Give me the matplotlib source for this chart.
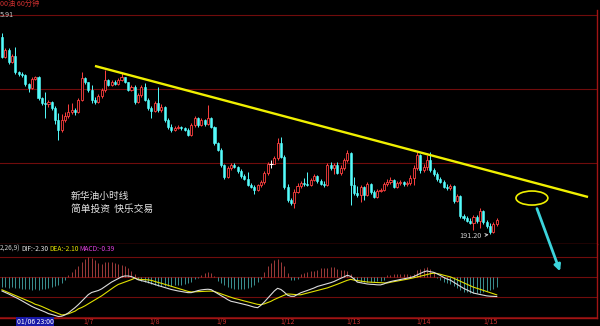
import matplotlib
matplotlib.use("Agg")
import matplotlib.pyplot as plt
from matplotlib.patches import Ellipse, FancyArrowPatch
import numpy as np

plt.rcParams['font.family'] = ['Noto Sans CJK SC', 'DejaVu Sans']

# 60-minute bars (open of each bar = previous close)
first_open = 204.43
close = [203.09, 203.56, 202.76, 203.16, 202.09, 201.95, 201.89, 201.28, 201.01, 201.62,
         201.75, 200.34, 200.01, 199.94, 200.08, 199.67, 198.87, 198.20, 198.87, 199.14,
         199.41, 199.54, 199.41, 200.21, 201.68, 201.42, 200.88, 200.21, 200.08, 200.48,
         200.88, 201.55, 201.22, 201.42, 201.28, 201.55, 201.75, 201.42, 200.88, 201.08,
         200.08, 200.55, 201.08, 200.21, 199.67, 199.47, 200.01, 199.54, 199.74, 198.87,
         198.40, 198.20, 198.33, 198.40, 198.33, 198.20, 197.86, 198.54, 199.00, 198.54,
         198.87, 198.60, 199.00, 198.40, 197.33, 196.86, 195.86, 195.05, 195.65, 195.86,
         195.72, 195.45, 195.12, 194.92, 194.51, 194.38, 194.18, 194.51, 194.72, 195.32,
         195.92, 195.92, 196.32, 197.33, 196.39, 194.38, 193.51, 193.31, 194.05, 194.45,
         194.65, 194.58, 194.51, 194.85, 195.12, 194.78, 194.58, 194.51, 195.86, 195.65,
         195.86, 195.32, 195.65, 196.19, 196.66, 194.51, 193.98, 193.85, 194.38, 193.85,
         194.58, 194.05, 193.71, 194.11, 194.18, 194.58, 194.72, 194.85, 194.38, 194.65,
         194.72, 194.58, 194.65, 194.98, 195.65, 196.53, 195.52, 195.72, 196.19, 195.52,
         195.25, 194.92, 194.72, 194.38, 194.31, 194.45, 193.44, 193.78, 192.44, 192.30,
         192.10, 191.97, 192.37, 192.10, 192.77, 192.04, 191.77, 191.37, 191.90, 192.17]
high = [204.70, 203.69, 203.69, 203.29, 203.76, 202.15, 202.09, 201.95, 201.35, 201.75,
        201.82, 201.82, 200.41, 200.75, 200.21, 200.14, 199.81, 199.34, 199.27, 199.41,
        199.94, 200.01, 199.67, 200.34, 202.09, 201.75, 201.42, 201.22, 200.41, 200.61,
        201.01, 202.22, 201.62, 201.55, 201.55, 201.68, 202.02, 201.75, 201.42, 201.22,
        201.22, 200.68, 201.22, 201.35, 200.34, 199.81, 200.14, 201.08, 199.94, 199.81,
        199.00, 198.60, 198.47, 198.54, 198.47, 198.40, 198.33, 198.67, 199.14, 199.07,
        199.00, 198.94, 199.88, 199.07, 198.47, 197.40, 197.00, 195.92, 195.79, 195.99,
        195.99, 195.79, 195.59, 195.25, 195.39, 194.65, 194.51, 194.58, 194.85, 195.45,
        196.06, 196.19, 196.46, 197.66, 197.73, 196.53, 194.58, 193.64, 194.25, 194.65,
        194.78, 194.98, 195.39, 194.98, 195.25, 195.19, 194.92, 194.78, 195.99, 196.06,
        195.99, 196.06, 195.86, 196.32, 196.86, 196.73, 195.05, 194.45, 194.51, 194.45,
        194.72, 194.65, 194.18, 194.25, 194.31, 194.72, 194.92, 195.05, 194.92, 194.78,
        194.85, 194.78, 194.78, 195.19, 195.86, 196.73, 196.59, 195.92, 196.53, 196.73,
        195.65, 195.39, 195.05, 194.85, 194.58, 194.58, 194.51, 193.91, 193.85, 192.57,
        192.44, 192.30, 192.50, 192.50, 192.97, 192.84, 192.17, 191.97, 192.04, 192.30]
low = [203.02, 203.02, 202.62, 202.69, 201.95, 201.82, 201.75, 201.15, 200.75, 200.95,
       201.55, 200.21, 199.88, 199.00, 199.74, 199.54, 198.60, 197.53, 198.07, 198.74,
       199.00, 199.27, 199.21, 199.34, 200.14, 201.28, 200.75, 200.01, 199.94, 200.01,
       200.34, 200.75, 201.15, 201.15, 201.22, 201.22, 201.48, 201.35, 200.81, 200.81,
       199.94, 200.01, 200.41, 200.14, 199.54, 199.00, 199.41, 199.41, 199.41, 198.74,
       198.27, 198.07, 198.13, 198.27, 198.20, 198.13, 197.80, 197.80, 198.40, 198.40,
       198.47, 198.47, 198.54, 198.33, 197.20, 196.79, 195.72, 194.92, 194.98, 195.52,
       195.65, 195.32, 194.98, 194.85, 194.45, 194.31, 193.91, 194.11, 194.38, 194.58,
       195.19, 195.65, 195.92, 196.19, 196.32, 194.25, 193.38, 193.18, 192.97, 193.98,
       194.31, 194.45, 194.45, 194.45, 194.78, 194.65, 194.51, 194.38, 194.45, 195.52,
       195.25, 195.25, 195.19, 195.52, 196.06, 193.18, 193.85, 193.71, 193.38, 193.51,
       193.78, 193.91, 193.64, 193.64, 194.05, 194.11, 194.45, 194.58, 194.31, 194.31,
       194.51, 194.45, 194.45, 194.51, 194.51, 195.52, 195.32, 195.39, 195.52, 195.39,
       195.12, 194.78, 194.65, 194.31, 194.18, 194.18, 193.31, 193.38, 192.30, 192.17,
       192.04, 191.90, 191.50, 191.97, 191.63, 191.90, 191.63, 191.20, 191.30, 191.77]

# MACD(12,26,9)
dif = [-1.65, -1.82, -2.00, -2.19, -2.38, -2.58, -2.80, -3.01, -3.24, -3.46,
       -3.64, -3.80, -3.95, -4.12, -4.31, -4.41, -4.53, -4.65, -4.61, -4.46,
       -4.22, -3.91, -3.60, -3.25, -2.86, -2.47, -2.07, -1.82, -1.71, -1.59,
       -1.40, -1.13, -0.86, -0.60, -0.39, -0.19, 0.02, 0.12, 0.12, 0.05,
       -0.12, -0.33, -0.42, -0.52, -0.62, -0.75, -0.87, -1.00, -1.12, -1.24,
       -1.35, -1.47, -1.56, -1.64, -1.71, -1.78, -1.84, -1.84, -1.72, -1.60,
       -1.52, -1.47, -1.44, -1.49, -1.73, -1.96, -2.20, -2.42, -2.67, -2.86,
       -2.94, -3.04, -3.13, -3.22, -3.32, -3.44, -3.55, -3.61, -3.32, -2.94,
       -2.51, -2.08, -1.65, -1.33, -1.47, -1.78, -2.14, -2.27, -2.27, -2.05,
       -1.85, -1.72, -1.58, -1.44, -1.29, -1.11, -1.00, -0.88, -0.78, -0.67,
       -0.53, -0.34, -0.16, 0.01, 0.20, 0.08, -0.22, -0.60, -0.67, -0.75,
       -0.82, -0.86, -0.88, -0.92, -0.93, -0.82, -0.65, -0.54, -0.45, -0.38,
       -0.29, -0.22, -0.14, -0.06, 0.05, 0.24, 0.42, 0.60, 0.71, 0.62,
       0.55, 0.38, 0.18, -0.04, -0.24, -0.36, -0.61, -0.85, -1.09, -1.33,
       -1.52, -1.72, -1.89, -1.98, -2.06, -2.14, -2.22, -2.26, -2.28, -2.30]
dea = [-1.51, -1.67, -1.84, -2.01, -2.18, -2.34, -2.51, -2.67, -2.84, -3.00,
       -3.21, -3.32, -3.47, -3.64, -3.82, -4.01, -4.15, -4.31, -4.47, -4.41,
       -4.33, -4.18, -4.02, -3.75, -3.59, -3.39, -3.15, -2.92, -2.69, -2.47,
       -2.22, -1.94, -1.67, -1.39, -1.12, -0.88, -0.74, -0.60, -0.45, -0.31,
       -0.13, -0.27, -0.29, -0.31, -0.34, -0.40, -0.52, -0.64, -0.74, -0.86,
       -0.98, -1.09, -1.21, -1.33, -1.45, -1.58, -1.69, -1.76, -1.74, -1.73,
       -1.71, -1.69, -1.67, -1.66, -1.71, -1.85, -1.98, -2.12, -2.26, -2.39,
       -2.52, -2.61, -2.72, -2.82, -2.92, -3.02, -3.12, -3.22, -3.25, -3.16,
       -3.01, -2.86, -2.65, -2.48, -2.31, -2.14, -2.00, -2.02, -2.06, -2.09,
       -2.09, -1.99, -1.89, -1.79, -1.68, -1.59, -1.48, -1.39, -1.28, -1.14,
       -0.99, -0.85, -0.69, -0.54, -0.39, -0.28, -0.36, -0.42, -0.48, -0.54,
       -0.59, -0.61, -0.62, -0.65, -0.67, -0.68, -0.71, -0.62, -0.55, -0.48,
       -0.40, -0.33, -0.26, -0.18, -0.09, 0.00, 0.09, 0.19, 0.29, 0.39,
       0.45, 0.41, 0.32, 0.21, 0.12, 0.02, -0.14, -0.32, -0.49, -0.67,
       -0.85, -1.02, -1.20, -1.32, -1.45, -1.58, -1.71, -1.84, -1.96, -2.10]
macd = [-0.39, -0.39, -0.43, -0.39, -0.43, -0.43, -0.47, -0.47, -0.47, -0.51,
        -0.47, -0.51, -0.47, -0.47, -0.43, -0.39, -0.35, -0.31, -0.23, -0.12,
        0.08, 0.20, 0.31, 0.43, 0.59, 0.70, 0.78, 0.74, 0.66, 0.55,
        0.51, 0.59, 0.59, 0.59, 0.55, 0.51, 0.47, 0.43, 0.35, 0.23,
        0.12, -0.08, -0.16, -0.20, -0.23, -0.27, -0.31, -0.35, -0.35, -0.35,
        -0.35, -0.35, -0.31, -0.31, -0.31, -0.27, -0.23, -0.20, -0.08, -0.04,
        0.08, 0.16, 0.20, 0.16, 0.04, -0.16, -0.23, -0.31, -0.39, -0.43,
        -0.47, -0.47, -0.47, -0.47, -0.43, -0.39, -0.31, -0.20, -0.08, 0.20,
        0.43, 0.55, 0.66, 0.70, 0.59, 0.43, 0.16, -0.12, -0.12, -0.08,
        0.12, 0.16, 0.20, 0.23, 0.23, 0.27, 0.35, 0.35, 0.35, 0.39,
        0.39, 0.31, 0.27, 0.27, 0.23, 0.12, -0.12, -0.16, -0.20, -0.20,
        -0.20, -0.20, -0.20, -0.16, -0.16, -0.12, 0.08, 0.08, 0.12, 0.12,
        0.12, 0.12, 0.12, 0.08, 0.12, 0.27, 0.31, 0.35, 0.39, 0.31,
        0.20, -0.04, -0.12, -0.20, -0.23, -0.27, -0.35, -0.43, -0.51, -0.59,
        -0.59, -0.62, -0.62, -0.62, -0.62, -0.59, -0.55, -0.51, -0.47, -0.39]

day_labels = ["1/7", "1/8", "1/9", "1/12", "1/13", "1/14", "1/15"]
day_pos = [26, 46, 66, 86, 106, 127, 147]

price_grid = [205.91, 200.95, 195.99]
macd_grid = [2.35, 0, -2.35, -4.71]

# hand-drawn trend line and marks (bar index, price)
trend_x = [28, 176.5]
trend_y = [202.49, 193.71]
mark_x, mark_y = 159.6, 193.64

CYAN = '#54fcfc'
RED = '#ff4040'
GRID = '#700c0c'
BORDER = '#a01414'

n = len(close)
idx = np.arange(n)
opn = np.array([first_open] + close[:-1])
cls = np.array(close)

fig = plt.figure(figsize=(6, 3.26), dpi=100, facecolor='black')
ax = fig.add_axes([0, 82 / 326, 597 / 600, 234 / 326], facecolor='black')
ax2 = fig.add_axes([0, 8 / 326, 597 / 600, 74 / 326], facecolor='black')

for a in (ax, ax2):
    a.set_xlim(-0.6, 179.2)
    a.set_xticks([])
    a.set_yticks([])
    for s in ('top', 'left'):
        a.spines[s].set_visible(False)
    for s in ('right', 'bottom'):
        a.spines[s].set_color(BORDER)
        a.spines[s].set_linewidth(1)

ax.set_ylim(190.56, 206.24)
ax2.set_ylim(-4.824, 3.882)

for g in price_grid:
    ax.axhline(g, color=GRID, lw=0.8, zorder=0)
for g in macd_grid:
    ax2.axhline(g, color=GRID, lw=0.8, zorder=0)

# candles
up = cls > opn
down = cls < opn
flat = cls == opn
wick_col = np.where(up, RED, np.where(down, CYAN, 'white'))
ax.vlines(idx, np.minimum(low, np.minimum(opn, cls)), np.maximum(high, np.maximum(opn, cls)),
          colors=wick_col, lw=0.7, zorder=2)
body_lo = np.minimum(opn, cls)
body_h = np.abs(cls - opn)
ax.bar(idx[down], body_h[down], bottom=body_lo[down], width=0.62,
       color=CYAN, edgecolor=CYAN, lw=0.4, zorder=3)
ax.bar(idx[up], body_h[up], bottom=body_lo[up], width=0.62,
       color='black', edgecolor=RED, lw=0.6, zorder=3)
ax.hlines(cls[flat], idx[flat] - 0.5, idx[flat] + 0.5, colors='white', lw=0.8, zorder=3)

# trend line, circle
ax.plot(trend_x, trend_y, color='#f0f000', lw=1.7, zorder=4, solid_capstyle='butt')
ax.add_patch(Ellipse((mark_x, mark_y), 9.6, 0.94, fill=False, edgecolor='#f0f000', lw=1.2, zorder=4))

low_i = int(np.argmin(low))
ax.annotate(f"{low[low_i]:.2f}", xy=(low_i, low[low_i]), xytext=(-20, -2),
            textcoords='offset pixels', ha='center', va='center', color='#d0d0d0', fontsize=5.2,
            arrowprops=dict(arrowstyle='->', color='#d0d0d0', lw=0.6, shrinkA=1, shrinkB=1),
            annotation_clip=False)

fig.text(71 / 600, 1 - 196 / 326, "新华油小时线", color='#e6e6e6', fontsize=7, va='center', ha='left')
fig.text(71 / 600, 1 - 209 / 326, "简单投资  快乐交易", color='#e6e6e6', fontsize=7, va='center', ha='left')

# MACD panel
bar_scale = 3.0  # bars are drawn on their own scale by the software
macd_arr = np.array(macd) * bar_scale
ax2.vlines(idx, 0, macd_arr, colors=np.where(macd_arr >= 0, '#b84444', '#44a8a8'), lw=0.6, zorder=1)
ax2.plot(idx, dif, color='#dcdcdc', lw=0.8, zorder=3)
ax2.plot(idx, dea, color='#e0e000', lw=0.8, zorder=2)

# header texts
fig.text(0, 1 - 4 / 326, "00油 60分钟", color='#d03030', fontsize=5.2, va='center')
fig.text(0, 1 - 15 / 326, "5.91", color='#c8c8c8', fontsize=5.2, va='center')
hy = 1 - 249 / 326
fig.text(0, hy, "2,26,9)", color='#c8c8c8', fontsize=4.8, va='center')
fig.text(21 / 600, hy, f"DIF:{dif[-1]:.2f}", color='#e0e0e0', fontsize=4.8, va='center')
fig.text(49 / 600, hy, f"DEA:{dea[-1]:.2f}", color='#e0e000', fontsize=4.8, va='center')
fig.text(79 / 600, hy, f"MACD:{macd[-1]:.2f}", color='#e040e0', fontsize=4.8, va='center')

# date axis
for lab, p in zip(day_labels, day_pos):
    ax2.text(p, -5.35, lab, color='#c83030', fontsize=5, ha='center', va='center', clip_on=False)
fig.text(35 / 600, 1 - 322 / 326, "01/06 23:00", color='white', fontsize=5, ha='center', va='center',
         bbox=dict(facecolor='#1818a8', edgecolor='none', pad=0.6))

# cyan arrow to the target zone
fig.add_artist(FancyArrowPatch((536 / 600, 1 - 206 / 326), (561 / 600, 1 - 274 / 326),
                               transform=fig.transFigure, arrowstyle='-|>', mutation_scale=9,
                               color='#3cd4dc', lw=2))

fig.savefig("out.png", dpi=100, facecolor='black')
